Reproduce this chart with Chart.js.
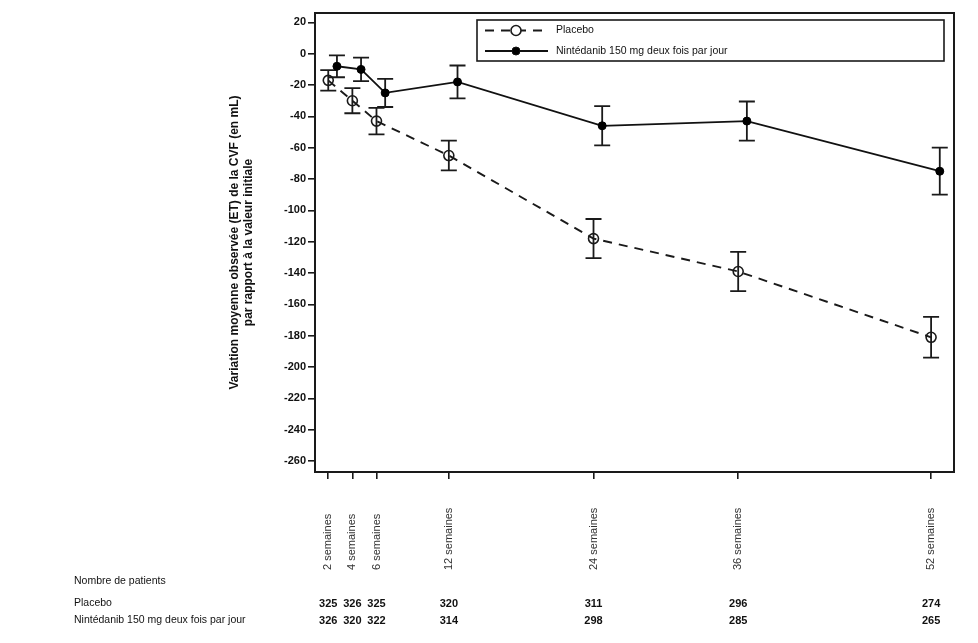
<!DOCTYPE html>
<html>
<head>
<meta charset="utf-8">
<script src="https://cdn.jsdelivr.net/npm/chart.js@4/dist/chart.umd.min.js"></script>
<style>
  body { margin: 0; background: #fff; }
  #wrap { width: 978px; height: 643px; position: relative; }
</style>
</head>
<body>
<div id="wrap"><canvas id="fvcChart"></canvas></div>
<script>
// weeks of follow-up
var weeks = [2, 4, 6, 12, 24, 36, 52];
var weekLabels = ["2 semaines", "4 semaines", "6 semaines", "12 semaines", "24 semaines", "36 semaines", "52 semaines"];
var yTicks = [20, 0, -20, -40, -60, -80, -100, -120, -140, -160, -180, -200, -220, -240, -260];

// mean change from baseline (mL) and standard error
var placebo = [-17, -30, -43, -65, -118, -139, -181];
var placeboSE = [6.5, 8, 8.5, 9.5, 12.5, 12.5, 13];
var nintedanib = [-8, -10, -25, -18, -46, -43, -75];
var nintedanibSE = [7, 7.5, 9, 10.5, 12.5, 12.5, 15];

// number of patients
var placeboN = [325, 326, 325, 320, 311, 296, 274];
var nintedanibN = [326, 320, 322, 314, 298, 285, 265];

var seriesNames = ["Placebo", "Nintédanib 150 mg deux fois par jour"];
var tableTitle = "Nombre de patients";

var FONT = "'Liberation Sans', Arial, sans-serif";
Chart.defaults.font.family = FONT;
Chart.defaults.color = '#000';

// nintedanib points are drawn slightly to the right of the placebo ones
var jitter = 0.72;

// error bars under the points
var errorBars = {
    id: 'errorBars',
    beforeDatasetsDraw: function(chart) {
        var ctx = chart.ctx, y = chart.scales.y;
        chart.data.datasets.forEach(function(ds, di) {
            var meta = chart.getDatasetMeta(di);
            ctx.save();
            ctx.strokeStyle = '#1a1a1a';
            ctx.lineWidth = 1.8;
            meta.data.forEach(function(pt, i) {
                var v = ds.data[i].y, se = ds.se[i];
                var top = y.getPixelForValue(v + se), bot = y.getPixelForValue(v - se);
                ctx.beginPath();
                ctx.moveTo(pt.x, top); ctx.lineTo(pt.x, bot);
                ctx.moveTo(pt.x - 8, top); ctx.lineTo(pt.x + 8, top);
                ctx.moveTo(pt.x - 8, bot); ctx.lineTo(pt.x + 8, bot);
                ctx.stroke();
            });
            ctx.restore();
        });
    }
};

// frame, legend, rotated week labels and patient table
var extras = {
    id: 'extras',
    afterDraw: function(chart) {
        var ctx = chart.ctx, a = chart.chartArea, x = chart.scales.x;
        ctx.save();
        ctx.strokeStyle = '#1a1a1a';
        ctx.lineWidth = 2;
        ctx.strokeRect(a.left, a.top, a.right - a.left, a.bottom - a.top);

        // legend box
        var lx = a.left + 162, ly = a.top + 7, lw = 467, lh = 41;
        ctx.lineWidth = 1.6;
        ctx.strokeRect(lx, ly, lw, lh);
        ctx.font = '10.5px ' + FONT;
        ctx.textBaseline = 'middle';
        ctx.fillStyle = '#111';
        chart.data.datasets.forEach(function(ds, i) {
            var cy = ly + 10.5 + i * 20.5;
            ctx.save();
            ctx.strokeStyle = ds.borderColor;
            ctx.lineWidth = ds.borderWidth;
            ctx.setLineDash(ds.borderDash || []);
            ctx.beginPath();
            ctx.moveTo(lx + 8, cy); ctx.lineTo(lx + 71, cy);
            ctx.stroke();
            ctx.setLineDash([]);
            ctx.beginPath();
            ctx.arc(lx + 39, cy, ds.pointRadius, 0, Math.PI * 2);
            ctx.fillStyle = ds.legendFill;
            ctx.fill();
            ctx.lineWidth = ds.pointBorderWidth;
            ctx.stroke();
            ctx.restore();
            ctx.fillText(ds.label, lx + 79, cy);
        });

        // week labels, read bottom to top
        ctx.font = '11px ' + FONT;
        ctx.fillStyle = '#333';
        weeks.forEach(function(w, i) {
            var px = x.getPixelForValue(w);
            ctx.save();
            ctx.translate(px, 570);
            ctx.rotate(-Math.PI / 2);
            ctx.textAlign = 'left';
            ctx.textBaseline = 'middle';
            ctx.fillText(weekLabels[i], 0, 0);
            ctx.restore();
        });

        // patient numbers table
        ctx.fillStyle = '#111';
        ctx.textAlign = 'left';
        ctx.font = '10.5px ' + FONT;
        ctx.fillText(tableTitle, 74, 581);
        ctx.fillText(seriesNames[0], 74, 603);
        ctx.fillText(seriesNames[1], 74, 620);
        ctx.textAlign = 'center';
        ctx.font = 'bold 11px ' + FONT;
        weeks.forEach(function(w, i) {
            var px = x.getPixelForValue(w);
            ctx.fillText(String(placeboN[i]), px, 604);
            ctx.fillText(String(nintedanibN[i]), px, 621);
        });
        ctx.restore();
    }
};

var ctx = document.getElementById('fvcChart').getContext('2d');
var chart = new Chart(ctx, {
    type: 'line',
    data: {
        datasets: [{
            label: seriesNames[0],
            data: weeks.map(function(w, i) { return {x: w, y: placebo[i]}; }),
            se: placeboSE,
            borderColor: '#1a1a1a',
            borderWidth: 1.9,
            borderDash: [9, 7],
            pointRadius: 5,
            pointBorderWidth: 1.6,
            pointBorderColor: '#1a1a1a',
            pointBackgroundColor: 'rgba(0,0,0,0)',
            legendFill: '#fff',
            tension: 0
        }, {
            label: seriesNames[1],
            data: weeks.map(function(w, i) { return {x: w + jitter, y: nintedanib[i]}; }),
            se: nintedanibSE,
            borderColor: '#111',
            borderWidth: 1.8,
            pointRadius: 4,
            pointBorderWidth: 1,
            pointBorderColor: '#000',
            pointBackgroundColor: '#000',
            legendFill: '#000',
            tension: 0
        }]
    },
    options: {
        responsive: true,
        maintainAspectRatio: false,
        animation: false,
        events: [],
        layout: { padding: { left: 220, top: 13, right: 24, bottom: 164 } },
        plugins: { legend: { display: false }, tooltip: { enabled: false } },
        scales: {
            x: {
                type: 'linear',
                min: 0.9,
                max: 53.9,
                afterBuildTicks: function(s) { s.ticks = weeks.map(function(v) { return {value: v}; }); },
                afterFit: function(s) { s.height = 7; },
                ticks: { display: false },
                border: { display: false },
                grid: { drawOnChartArea: false, drawTicks: true, tickLength: 7, color: '#1a1a1a', lineWidth: 1.6 }
            },
            y: {
                min: -267,
                max: 26,
                afterBuildTicks: function(s) { s.ticks = yTicks.map(function(v) { return {value: v}; }); },
                afterFit: function(s) { s.width = 95; },
                ticks: {
                    padding: 2,
                    color: '#111',
                    font: { size: 11, weight: 'bold' },
                    callback: function(v) { return String(v); }
                },
                border: { display: false },
                grid: { drawOnChartArea: false, drawTicks: true, tickLength: 7, color: '#1a1a1a', lineWidth: 1.6 },
                title: {
                    display: true,
                    text: ["Variation moyenne observée (ET) de la CVF (en mL)", "par rapport à la valeur initiale"],
                    color: '#111',
                    font: { size: 12, weight: 'bold', lineHeight: 1.15 },
                    padding: { top: 8, bottom: 0 }
                }
            }
        }
    },
    plugins: [errorBars, extras]
});
</script>
</body>
</html>
